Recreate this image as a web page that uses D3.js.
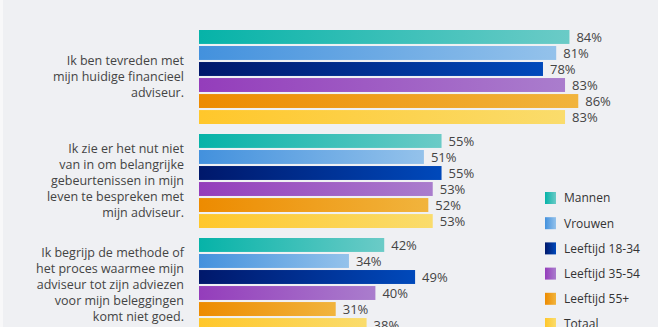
<!DOCTYPE html>
<meta charset="utf-8">
<style>
body { margin: 0; background: #eff0f3; }
svg { display: block; font-family: "Open Sans", sans-serif; }
.qlabel { fill: #444; font-size: 12.5px; }
.val { fill: #444; font-size: 13px; }
.leg text { fill: #333; font-size: 12px; }
</style>
<svg width="658" height="327"></svg>
<script src="https://d3js.org/d3.v7.min.js"></script>
<script>

// data
var questions = [
  ["Ik ben tevreden met", "mijn huidige financieel", "adviseur."],
  ["Ik zie er het nut niet", "van in om belangrijke", "gebeurtenissen in mijn", "leven te bespreken met", "mijn adviseur."],
  ["Ik begrijp de methode of", "het proces waarmee mijn", "adviseur tot zijn adviezen", "voor mijn beleggingen", "komt niet goed."]
];
var series = ["Mannen", "Vrouwen", "Leeftijd 18-34", "Leeftijd 35-54", "Leeftijd 55+", "Totaal"];
var values = [
  [84, 81, 78, 83, 86, 83],
  [55, 51, 55, 53, 52, 53],
  [42, 34, 49, 40, 31, 38]
];
var colorsFrom = ["#06b3a8", "#4391dd", "#00186b", "#943dbb", "#ed8b00", "#ffc72b"];
var colorsTo = ["#6bcbc7", "#94c2eb", "#0049bb", "#aa7dcd", "#f1b43d", "#fadc6c"];

var svg = d3.select("svg"),
    width = +svg.attr("width"),
    height = +svg.attr("height");

svg.append("rect").attr("width", 3).attr("height", height).attr("fill", "#f8f8f9");

var defs = svg.append("defs");
series.forEach(function(s, i) {
  var g = defs.append("linearGradient")
      .attr("id", "grad" + i)
      .attr("x1", "0%").attr("x2", "100%")
      .attr("y1", "0%").attr("y2", "0%");
  g.append("stop").attr("offset", "0%").attr("stop-color", colorsFrom[i]);
  g.append("stop").attr("offset", "100%").attr("stop-color", colorsTo[i]);
});

var x = d3.scaleLinear().domain([0, 100]).range([199, 640]);

var y0 = d3.scaleBand()
    .domain(d3.range(questions.length))
    .range([30, 30 + 104 * questions.length]);

var y1 = d3.scaleBand()
    .domain(series)
    .range([0, 94])
    .paddingInner(0.13)
    .paddingOuter(0);

var groups = svg.selectAll(".grp")
  .data(values)
  .enter().append("g")
    .attr("class", "grp")
    .attr("transform", function(d, i) { return "translate(0," + y0(i) + ")"; });

groups.selectAll("rect")
  .data(function(d) { return d; })
  .enter().append("rect")
    .attr("x", x(0))
    .attr("y", function(d, i) { return y1(series[i]); })
    .attr("width", function(d) { return x(d) - x(0); })
    .attr("height", y1.bandwidth())
    .attr("fill", function(d, i) { return "url(#grad" + i + ")"; });

groups.selectAll(".val")
  .data(function(d) { return d; })
  .enter().append("text")
    .attr("class", "val")
    .attr("x", function(d) { return x(d) + 7; })
    .attr("y", function(d, i) { return y1(series[i]) + y1.bandwidth() / 2; })
    .attr("dy", "0.36em")
    .text(function(d) { return d + "%"; });

// question labels, centred on the group
var lineH = 16;
groups.append("text")
    .attr("class", "qlabel")
    .attr("text-anchor", "end")
    .each(function(d, i) {
      var lines = questions[i];
      var t = d3.select(this);
      var mid = 46 + 5 - (lines.length - 1) / 2 * lineH;
      lines.forEach(function(l, k) {
        t.append("tspan")
          .attr("x", 184)
          .attr("y", mid + k * lineH)
          .text(l);
      });
    });

// legend
var leg = svg.append("g").attr("class", "leg").attr("transform", "translate(545,192)");
var li = leg.selectAll("g")
  .data(series)
  .enter().append("g")
    .attr("transform", function(d, i) { return "translate(0," + (i * 25.2) + ")"; });
li.append("rect")
    .attr("width", 11)
    .attr("height", 12)
    .attr("fill", function(d, i) { return "url(#grad" + i + ")"; });
li.append("text")
    .attr("x", 19)
    .attr("y", 6)
    .attr("dy", "0.36em")
    .text(function(d) { return d; });

</script>
